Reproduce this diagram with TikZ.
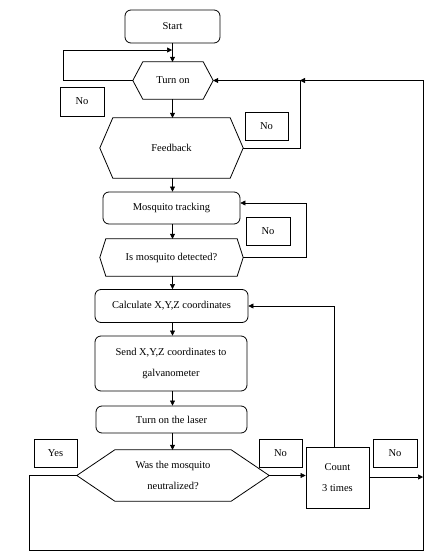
\documentclass[tikz,border=0pt]{standalone}
\usepackage{fontspec}
\setmainfont{Liberation Serif}
\usetikzlibrary{calc,positioning,arrows.meta}

% hexagon drawn round a node: name, slant
\newcommand{\hexnode}[2]{%
  \draw[line width=0.8pt] (#1.west) -- ($(#1.north west)+(#2,0)$) -- ($(#1.north east)+(-#2,0)$)
    -- (#1.east) -- ($(#1.south east)+(-#2,0)$) -- ($(#1.south west)+(#2,0)$) -- cycle;}

\tikzset{
  roundbox/.style={draw, line width=0.8pt, rounded corners=6pt, inner sep=0pt, align=center},
  plainbox/.style={draw, line width=0.8pt, inner sep=0pt, align=center},
  hexbox/.style={inner sep=0pt, align=center},
  line/.style={line width=0.5pt},
  arr/.style={line, -{Triangle[length=5pt,width=5pt]}}
}

\begin{document}
\begin{tikzpicture}[x=1pt,y=-1pt, font=\fontsize{10.5}{21}\selectfont]
  \useasboundingbox (0,0) rectangle (444,560);

  % main column
  \node[roundbox, minimum width=95pt, minimum height=33pt] (start) at (172.5,26.5) {Start};
  \node[hexbox, minimum width=80pt, minimum height=37pt] (turnon) at (173,80.5) {Turn on};
  \node[hexbox, minimum width=143pt, minimum height=60pt] (feedback) at (171.5,148) {Feedback};
  \node[roundbox, minimum width=137pt, minimum height=32pt] (track) at (171.5,208) {Mosquito tracking};
  \node[hexbox, minimum width=143pt, minimum height=37pt] (detect) at (171.5,257.5) {Is mosquito detected?};
  \node[roundbox, minimum width=153pt, minimum height=33pt] (calc) at (171.5,306) {Calculate X,Y,Z coordinates};
  \node[roundbox, minimum width=152pt, minimum height=55pt] (send) at (171,363.5) {Send X,Y,Z coordinates to\\galvanometer};
  \node[roundbox, minimum width=151pt, minimum height=27pt] (laser) at (171.5,419.5) {Turn on the laser};
  \node[hexbox, minimum width=192pt, minimum height=51pt] (neutral) at (173,475.5) {Was the mosquito\\neutralized?};
  \node[plainbox, minimum width=63pt, minimum height=61pt] (count) at (337.5,477.5) {Count\\3 times};

  \hexnode{turnon}{10}
  \hexnode{feedback}{13}
  \hexnode{detect}{6}
  \hexnode{neutral}{38}

  % answer labels
  \node[plainbox, minimum width=44pt, minimum height=29pt] (no1) at (82,101.5) {No};
  \node[plainbox, minimum width=43pt, minimum height=28pt] (no2) at (266.5,126) {No};
  \node[plainbox, minimum width=44pt, minimum height=28pt] (no3) at (268,231) {No};
  \node[plainbox, minimum width=43pt, minimum height=28pt] (yes) at (55.5,453) {Yes};
  \node[plainbox, minimum width=43pt, minimum height=28pt] (no4) at (280.5,453) {No};
  \node[plainbox, minimum width=44pt, minimum height=28pt] (no5) at (395,453) {No};

  % junction points
  \coordinate (j1) at (172,50);
  \coordinate (j2) at (300,80.5);
  \coordinate (r1) at (423,477);
  \coordinate (r2) at (423,80.5);

  % straight flow
  \draw[arr] (start.south) -- (start.south |- turnon.north);
  \draw[arr] (turnon.south -| start.south) -- (start.south |- feedback.north);
  \draw[arr] (feedback.south -| start.south) -- (start.south |- track.north);
  \draw[arr] (track.south -| start.south) -- (start.south |- detect.north);
  \draw[arr] (detect.south -| start.south) -- (start.south |- calc.north);
  \draw[arr] (calc.south -| start.south) -- (start.south |- send.north);
  \draw[arr] (send.south -| start.south) -- (start.south |- laser.north);
  \draw[arr] (laser.south -| start.south) -- (start.south |- neutral.north);
  \draw[arr] (neutral.east) -- (neutral.east -| count.west);
  \draw[arr] (count.east |- r1) -- (r1);

  % loops back
  \draw[arr] (turnon.west) -- ++(-70,0) |- (j1);
  \draw[line] (feedback.east) -| (j2);
  \draw[arr] (detect.east) -- ++(63,0) |- ($(track.east)+(0,-5)$);
  \draw[arr] ($(count.north)+(-3,0)$) |- (calc.east);
  \draw[arr] (neutral.west) -| (29,550) -| (r2) -- (turnon.east);
  \draw[arr] (r2) -- (j2);
\end{tikzpicture}
\end{document}
